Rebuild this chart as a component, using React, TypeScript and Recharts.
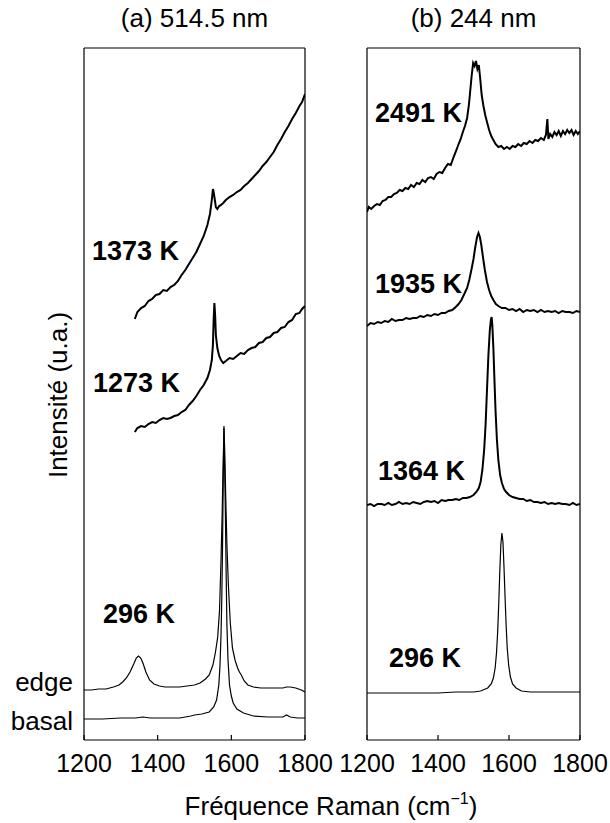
import { LineChart, Line, XAxis, YAxis } from "recharts"

const FONT = "'Liberation Sans', Arial, Helvetica, sans-serif"
const xTicks = [1200, 1400, 1600, 1800]

// ---- (a) 514.5 nm ----
const fEdge = [1200, 1220, 1240, 1260, 1280, 1295, 1305, 1315, 1325, 1335, 1342, 1348, 1354, 1360, 1368, 1378, 1390, 1405, 1420, 1440, 1460, 1480, 1500, 1515, 1530, 1540, 1550, 1557, 1563, 1568, 1572, 1575, 1578, 1580, 1582, 1585, 1588, 1592, 1597, 1603, 1610, 1617, 1622, 1627, 1635, 1645, 1660, 1680, 1700, 1720, 1740, 1750, 1760, 1775, 1790, 1800]
const vEdge = [50, 50, 51, 51, 53, 55, 58, 62, 68, 76, 82, 84, 82, 77, 68, 60, 56, 54, 53, 53, 53, 54, 55, 57, 61, 65, 75, 88, 103, 130, 180, 225, 280, 312, 290, 240, 195, 155, 118, 92, 80, 72, 68, 65, 59, 55, 53, 52, 52, 52, 52, 53, 53, 52, 50, 48]

const fBasal = [1200, 1250, 1300, 1340, 1360, 1380, 1420, 1460, 1490, 1500, 1520, 1540, 1552, 1560, 1566, 1569, 1572, 1574, 1576, 1578, 1580, 1582, 1584, 1586, 1588, 1591, 1595, 1600, 1605, 1615, 1633, 1660, 1700, 1740, 1750, 1760, 1780, 1800]
const vBasal = [21, 21, 22, 22, 23, 22, 22, 22, 24, 25, 26, 28, 33, 40, 55, 73, 105, 140, 190, 260, 314, 270, 223, 165, 115, 80, 55, 44, 37, 31, 27, 24, 23, 23, 25, 23, 22, 22]

const fHot = [1338, 1345, 1355, 1365, 1375, 1385, 1395, 1405, 1415, 1425, 1435, 1445, 1455, 1465, 1475, 1485, 1495, 1505, 1515, 1525, 1535, 1542, 1547, 1550, 1552, 1554, 1556, 1558, 1562, 1567, 1572, 1578, 1585, 1595, 1605, 1615, 1625, 1635, 1645, 1655, 1665, 1675, 1685, 1695, 1705, 1715, 1725, 1735, 1745, 1755, 1765, 1775, 1785, 1792, 1800]
const v1273 = [308, 312, 314, 313, 316, 318, 317, 320, 322, 321, 322, 324, 325, 328, 330, 335, 339, 344, 350, 355, 362, 370, 380, 395, 420, 437, 425, 405, 392, 384, 380, 377, 379, 382, 381, 384, 387, 386, 390, 392, 393, 397, 398, 402, 403, 407, 408, 412, 413, 418, 420, 426, 427, 431, 434]
const v1373 = [421, 428, 432, 434, 439, 441, 445, 446, 450, 449, 453, 455, 459, 465, 470, 476, 482, 488, 496, 504, 515, 526, 540, 551, 548, 543, 538, 533, 531, 534, 535, 537, 540, 543, 545, 548, 550, 554, 557, 561, 565, 569, 574, 578, 583, 588, 595, 601, 608, 614, 621, 627, 634, 638, 646]

// ---- (b) 244 nm ----
const f296b = [1200, 1300, 1400, 1450, 1500, 1520, 1540, 1550, 1556, 1561, 1565, 1568, 1571, 1574, 1577, 1580, 1583, 1586, 1589, 1592, 1595, 1599, 1604, 1610, 1620, 1635, 1660, 1700, 1750, 1800]
const v296b = [47, 47, 47, 48, 48, 49, 52, 56, 62, 72, 88, 108, 135, 168, 195, 207, 198, 172, 142, 114, 92, 75, 63, 56, 52, 49, 48, 48, 48, 48]

const f1364 = [1200, 1210, 1220, 1230, 1240, 1250, 1260, 1270, 1280, 1290, 1300, 1310, 1320, 1330, 1340, 1350, 1360, 1370, 1380, 1390, 1400, 1410, 1420, 1430, 1440, 1450, 1460, 1470, 1480, 1490, 1500, 1508, 1515, 1520, 1525, 1530, 1534, 1538, 1542, 1546, 1549, 1551, 1553, 1556, 1559, 1562, 1566, 1570, 1575, 1580, 1586, 1592, 1600, 1610, 1620, 1630, 1640, 1650, 1660, 1670, 1680, 1690, 1700, 1710, 1720, 1730, 1740, 1750, 1760, 1770, 1780, 1790, 1800]
const v1364 = [235, 236, 234, 236, 236, 235, 237, 235, 236, 238, 236, 237, 236, 238, 237, 236, 238, 239, 238, 239, 237, 240, 239, 240, 240, 241, 240, 242, 242, 243, 245, 248, 252, 258, 270, 290, 315, 350, 385, 410, 420, 423, 415, 392, 360, 330, 300, 280, 265, 257, 251, 248, 245, 243, 242, 241, 241, 239, 240, 238, 238, 237, 238, 236, 237, 236, 237, 236, 236, 235, 237, 235, 236]

const f1935 = [1200, 1210, 1220, 1230, 1240, 1250, 1260, 1270, 1280, 1290, 1300, 1310, 1320, 1330, 1340, 1350, 1360, 1370, 1380, 1390, 1400, 1410, 1420, 1430, 1440, 1450, 1458, 1466, 1474, 1482, 1488, 1494, 1500, 1505, 1510, 1514, 1518, 1522, 1527, 1532, 1538, 1544, 1550, 1556, 1563, 1570, 1580, 1590, 1600, 1610, 1620, 1630, 1640, 1650, 1660, 1670, 1680, 1690, 1700, 1710, 1720, 1730, 1740, 1750, 1760, 1770, 1780, 1790, 1800]
const v1935 = [414, 417, 416, 418, 417, 419, 418, 421, 419, 420, 420, 422, 421, 422, 422, 424, 423, 425, 424, 426, 425, 427, 427, 429, 430, 433, 436, 440, 446, 452, 460, 470, 481, 493, 503, 507, 503, 495, 482, 470, 458, 450, 444, 440, 436, 434, 432, 432, 430, 431, 429, 431, 428, 430, 429, 430, 428, 430, 428, 429, 428, 429, 427, 429, 428, 428, 427, 429, 428]

const f2491 = [1200, 1205, 1212, 1220, 1228, 1236, 1244, 1252, 1260, 1268, 1276, 1284, 1292, 1300, 1308, 1316, 1324, 1332, 1340, 1348, 1356, 1364, 1372, 1380, 1388, 1396, 1404, 1412, 1420, 1428, 1436, 1444, 1452, 1458, 1464, 1470, 1476, 1482, 1487, 1491, 1495, 1499, 1503, 1507, 1511, 1515, 1519, 1523, 1528, 1533, 1538, 1544, 1550, 1556, 1562, 1570, 1578, 1586, 1594, 1602, 1610, 1618, 1626, 1634, 1642, 1650, 1658, 1666, 1674, 1682, 1690, 1698, 1704, 1708, 1711, 1716, 1722, 1728, 1734, 1740, 1746, 1752, 1758, 1764, 1770, 1776, 1782, 1788, 1794, 1800]
const v2491 = [528, 533, 531, 534, 536, 535, 539, 540, 543, 543, 546, 547, 550, 549, 552, 551, 555, 553, 557, 556, 560, 558, 562, 563, 561, 566, 568, 567, 572, 576, 575, 583, 590, 596, 601, 608, 614, 622, 635, 650, 665, 677, 674, 679, 671, 675, 661, 645, 634, 625, 618, 610, 604, 600, 596, 593, 594, 591, 593, 591, 594, 593, 596, 594, 597, 596, 599, 597, 600, 599, 602, 600, 605, 621, 601, 606, 603, 608, 605, 609, 604, 609, 606, 610, 607, 610, 605, 609, 606, 609]

const toPoints = (f: number[], v: number[]) => f.map((x, i) => ({ f: x, v: v[i] }))

type Series = { name: string; data: { f: number; v: number }[]; noisy: boolean }

const seriesA: Series[] = [
  { name: "basal", data: toPoints(fBasal, vBasal), noisy: false },
  { name: "edge", data: toPoints(fEdge, vEdge), noisy: false },
  { name: "1273 K", data: toPoints(fHot, v1273), noisy: true },
  { name: "1373 K", data: toPoints(fHot, v1373), noisy: true },
]

const seriesB: Series[] = [
  { name: "296 K", data: toPoints(f296b, v296b), noisy: false },
  { name: "1364 K", data: toPoints(f1364, v1364), noisy: true },
  { name: "1935 K", data: toPoints(f1935, v1935), noisy: true },
  { name: "2491 K", data: toPoints(f2491, v2491), noisy: true },
]

const axisStroke = { stroke: "#000", strokeWidth: 1.2 }
const PLOT_TOP = 48
const PLOT_BOTTOM = 740

// inward tick marks + label under the bottom axis
const BottomTick = (props: any) => {
  const { x, payload } = props
  return (
    <g>
      <line x1={x} x2={x} y1={PLOT_BOTTOM} y2={PLOT_BOTTOM - 5} stroke="#000" strokeWidth={1.2} />
      <text x={x} y={772} textAnchor="middle" fontSize={25} fontFamily={FONT} fill="#000">
        {payload.value}
      </text>
    </g>
  )
}

const TopTick = (props: any) => {
  const { x } = props
  return <line x1={x} x2={x} y1={PLOT_TOP} y2={PLOT_TOP + 5} stroke="#000" strokeWidth={1.2} />
}

function Panel({ series, width, left, plotW }: { series: Series[]; width: number; left: number; plotW: number }) {
  return (
    <LineChart
      width={width}
      height={823}
      margin={{ top: PLOT_TOP - 1, right: width - left - plotW - 1, bottom: 823 - PLOT_BOTTOM - 1, left: left - 1 }}
    >
      <XAxis
        dataKey="f"
        type="number"
        domain={[1200, 1800]}
        ticks={xTicks}
        interval={0}
        height={1}
        axisLine={axisStroke}
        tickLine={false}
        tick={<BottomTick />}
        allowDataOverflow
      />
      <XAxis
        xAxisId="top"
        orientation="top"
        type="number"
        domain={[1200, 1800]}
        ticks={xTicks}
        interval={0}
        height={1}
        axisLine={axisStroke}
        tickLine={false}
        tick={<TopTick />}
      />
      <YAxis type="number" domain={[0, 692]} width={1} tick={false} tickLine={false} axisLine={axisStroke} />
      <YAxis
        yAxisId="r"
        orientation="right"
        type="number"
        domain={[0, 692]}
        width={1}
        tick={false}
        tickLine={false}
        axisLine={axisStroke}
      />
      {series.map((s) => (
        <Line
          key={s.name}
          data={s.data}
          dataKey="v"
          type="linear"
          stroke="#000"
          strokeWidth={s.noisy ? 2 : 1.2}
          dot={false}
          activeDot={false}
          isAnimationActive={false}
        />
      ))}
    </LineChart>
  )
}

export default function App() {
  const bold = { fontSize: 27, fontWeight: 700, fontFamily: FONT, fill: "#000" }
  const plain = { fontSize: 26, fontFamily: FONT, fill: "#000" }
  return (
    <div style={{ position: "absolute", left: 0, top: 0, width: 610, height: 823, background: "#fff" }}>
      <div style={{ position: "absolute", left: 0, top: 0 }}>
        <Panel series={seriesA} width={340} left={84} plotW={221} />
      </div>
      <div style={{ position: "absolute", left: 330, top: 0 }}>
        <Panel series={seriesB} width={280} left={37} plotW={213} />
      </div>
      <svg width={610} height={823} style={{ position: "absolute", left: 0, top: 0, pointerEvents: "none" }}>
        <text x={194.5} y={27} textAnchor="middle" {...plain}>(a) 514.5 nm</text>
        <text x={473.5} y={27} textAnchor="middle" {...plain}>(b) 244 nm</text>
        <text x={331} y={815} textAnchor="middle" {...plain}>
          <tspan>Fréquence Raman (cm</tspan>
          <tspan dy={-11} fontSize={16}>−1</tspan>
          <tspan dy={11}>)</tspan>
        </text>
        <text transform="translate(67,395) rotate(-90)" textAnchor="middle" {...plain}>Intensité (u.a.)</text>
        <text x={73} y={691} textAnchor="end" {...plain}>edge</text>
        <text x={73} y={730} textAnchor="end" {...plain}>basal</text>
        <text x={92} y={260} {...bold}>1373 K</text>
        <text x={93} y={392} {...bold}>1273 K</text>
        <text x={103} y={623} {...bold}>296 K</text>
        <text x={375} y={122} {...bold}>2491 K</text>
        <text x={375} y={293} {...bold}>1935 K</text>
        <text x={378} y={480} {...bold}>1364 K</text>
        <text x={389} y={667} {...bold}>296 K</text>
      </svg>
    </div>
  )
}
